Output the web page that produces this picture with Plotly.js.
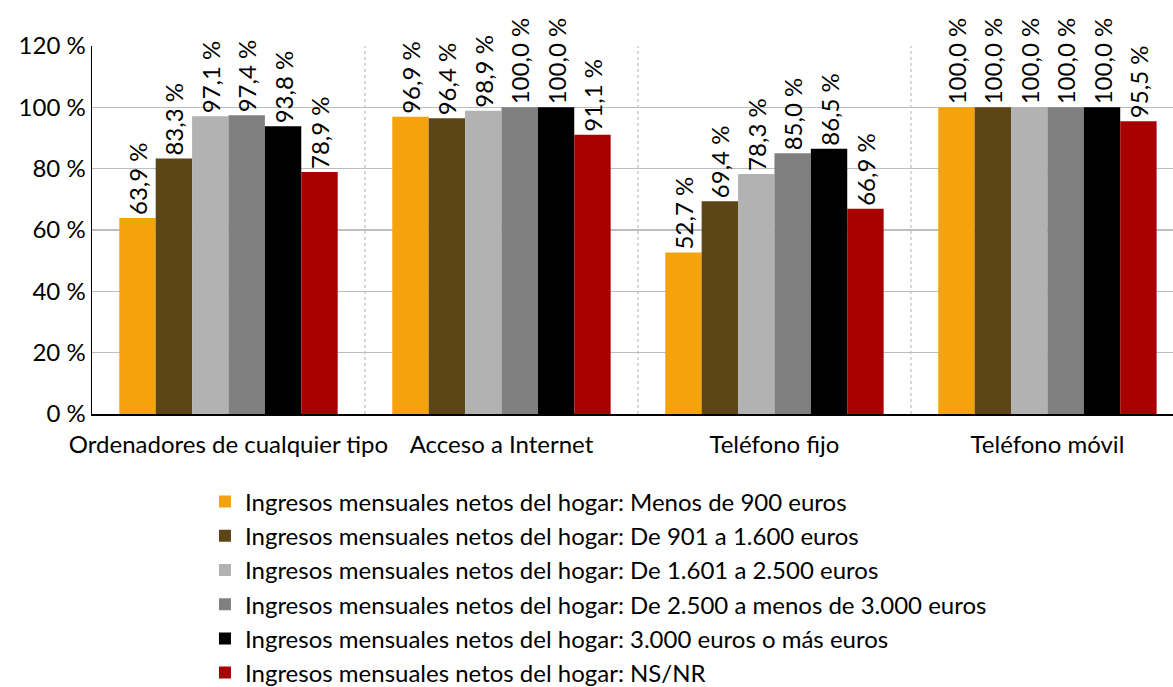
<!DOCTYPE html>
<html><head><meta charset="utf-8">
<script src="https://cdn.plot.ly/plotly-3.0.1.min.js"></script>
<style>body{margin:0;background:#fff}#c{width:1173px;height:687px}</style>
</head><body><div id="c"></div>
<script>
var categories = ["Ordenadores de cualquier tipo", "Acceso a Internet", "Teléfono fijo", "Teléfono móvil"];
var seriesNames = [
  "Ingresos mensuales netos del hogar: Menos de 900 euros",
  "Ingresos mensuales netos del hogar: De 901 a 1.600 euros",
  "Ingresos mensuales netos del hogar: De 1.601 a 2.500 euros",
  "Ingresos mensuales netos del hogar: De 2.500 a menos de 3.000 euros",
  "Ingresos mensuales netos del hogar: 3.000 euros o más euros",
  "Ingresos mensuales netos del hogar: NS/NR"
];
var menos900 = [63.9, 96.9, 52.7, 100.0];
var de901a1600 = [83.3, 96.4, 69.4, 100.0];
var de1601a2500 = [97.1, 98.9, 78.3, 100.0];
var de2500a3000 = [97.4, 100.0, 85.0, 100.0];
var mas3000 = [93.8, 100.0, 86.5, 100.0];
var nsnr = [78.9, 91.1, 66.9, 95.5];
var colors = ["#F5A30C", "#5C4517", "#B2B2B2", "#808080", "#000000", "#A80000"];
var yTicks = [0, 20, 40, 60, 80, 100, 120];

var allSeries = [menos900, de901a1600, de1601a2500, de2500a3000, mas3000, nsnr];
var font = "Lato, Liberation Sans, Arial, sans-serif";
var traces = allSeries.map(function (vals, i) {
  return {
    type: "bar",
    name: seriesNames[i],
    x: categories,
    y: vals,
    marker: {color: colors[i]},
    text: vals.map(function (v) { return v.toFixed(1).replace(".", ",") + " %"; }),
    textposition: "outside",
    textangle: -90,
    constraintext: "none",
    cliponaxis: false,
    textfont: {family: font, size: 24, color: "#000"},
    hoverinfo: "skip"
  };
});

var shapes = [0.5, 1.5, 2.5].map(function (b) {
  return {type: "line", xref: "x", yref: "paper", x0: b, x1: b, y0: 0, y1: 1,
          line: {color: "#b0b0b0", width: 1, dash: "dot"}, layer: "below"};
});

var layout = {
  width: 1173, height: 687,
  margin: {l: 92, r: 0, t: 46, b: 273, autoexpand: false},
  paper_bgcolor: "#fff", plot_bgcolor: "#fff",
  barmode: "group", bargap: 0.2, bargroupgap: 0,
  showlegend: true,
  legend: {orientation: "v", x: 0.1045, xanchor: "left", y: -0.178, yanchor: "top",
           font: {family: font, size: 24, color: "#000"}, traceorder: "normal",
           itemwidth: 30, tracegroupgap: 0},
  xaxis: {range: [-0.5, 3.46], showgrid: false, showline: true, linecolor: "#000", linewidth: 1.5,
          ticks: "", ticklabelstandoff: 9, tickfont: {family: font, size: 24, color: "#000"}, fixedrange: true},
  yaxis: {range: [0, 120], tickvals: yTicks, ticktext: yTicks.map(function (t) { return t + " %"; }),
          showgrid: true, gridcolor: "#bdbdbd", gridwidth: 1.5, showline: true, linecolor: "#000",
          linewidth: 1.5, ticks: "", zeroline: false,
          tickfont: {family: font, size: 24, color: "#000"}, fixedrange: true},
  shapes: shapes,
  font: {family: font}
};

Plotly.newPlot("c", traces, layout, {staticPlot: true, displayModeBar: false});
</script>
</body></html>
